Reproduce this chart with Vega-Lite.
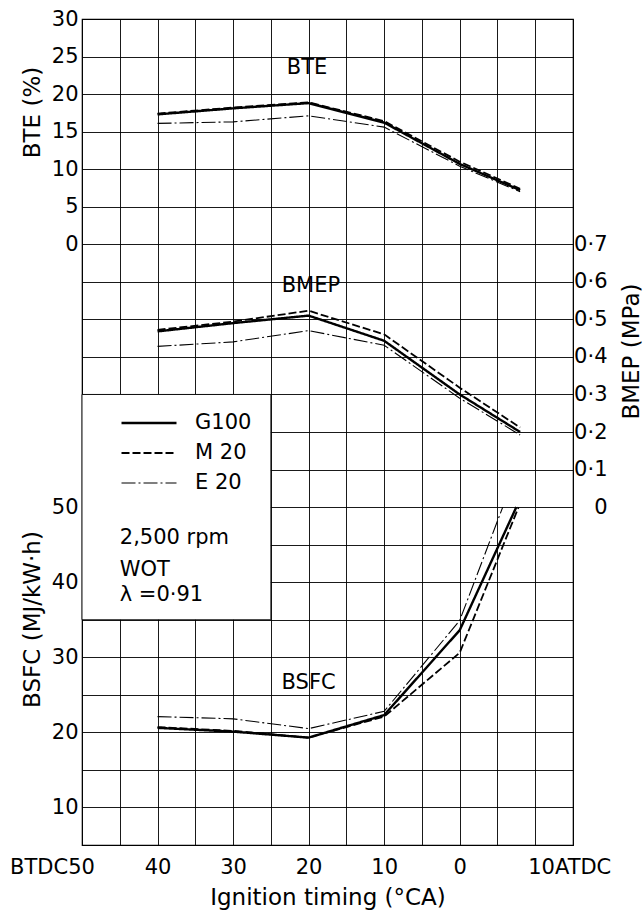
{
  "$schema": "https://vega.github.io/schema/vega-lite/v6.json",
  "width": 491,
  "height": 826,
  "autosize": {"type": "none"},
  "padding": {"left": 82, "top": 19, "right": 70, "bottom": 67},
  "background": "white",
  "config": {
    "view": {"stroke": "#000", "strokeWidth": 1.2},
    "font": "DejaVu Sans",
    "axis": {
      "labelFont": "DejaVu Sans", "titleFont": "DejaVu Sans",
      "labelColor": "#000", "titleColor": "#000",
      "labelFontSize": 21, "titleFontSize": 23, "titleFontWeight": "normal",
      "domain": false, "ticks": false,
      "gridColor": "#000", "gridOpacity": 1, "gridWidth": 0.9,
      "labelOverlap": false, "labelFlush": false, "labelBound": false
    },
    "legend": {
      "clipHeight": 30, "rowPadding": 0, "symbolType": "stroke", "symbolSize": 3025,
      "labelOffset": 17, "labelFontSize": 21, "labelFont": "DejaVu Sans", "labelColor": "#000",
      "padding": 0, "symbolStrokeColor": "#000", "symbolOffset": 0
    }
  },
  "datasets": {
    "bte": [
      {"fuel": "G100", "timing": 40, "value": 17.3}, {"fuel": "G100", "timing": 30, "value": 18.1}, {"fuel": "G100", "timing": 20, "value": 18.8},
      {"fuel": "G100", "timing": 10, "value": 16.2}, {"fuel": "G100", "timing": 0, "value": 10.7}, {"fuel": "G100", "timing": -8, "value": 7.2},
      {"fuel": "M 20", "timing": 40, "value": 17.4}, {"fuel": "M 20", "timing": 30, "value": 18.2}, {"fuel": "M 20", "timing": 20, "value": 18.9},
      {"fuel": "M 20", "timing": 10, "value": 16.4}, {"fuel": "M 20", "timing": 0, "value": 11.0}, {"fuel": "M 20", "timing": -8, "value": 7.4},
      {"fuel": "E 20", "timing": 40, "value": 16.1}, {"fuel": "E 20", "timing": 30, "value": 16.3}, {"fuel": "E 20", "timing": 20, "value": 17.1},
      {"fuel": "E 20", "timing": 10, "value": 15.6}, {"fuel": "E 20", "timing": 0, "value": 10.4}, {"fuel": "E 20", "timing": -8, "value": 7.0}
    ],
    "bmep": [
      {"fuel": "G100", "timing": 40, "value": 0.468}, {"fuel": "G100", "timing": 30, "value": 0.49}, {"fuel": "G100", "timing": 20, "value": 0.51},
      {"fuel": "G100", "timing": 10, "value": 0.443}, {"fuel": "G100", "timing": 0, "value": 0.3}, {"fuel": "G100", "timing": -8, "value": 0.2},
      {"fuel": "M 20", "timing": 40, "value": 0.472}, {"fuel": "M 20", "timing": 30, "value": 0.494}, {"fuel": "M 20", "timing": 20, "value": 0.523},
      {"fuel": "M 20", "timing": 10, "value": 0.46}, {"fuel": "M 20", "timing": 0, "value": 0.318}, {"fuel": "M 20", "timing": -8, "value": 0.212},
      {"fuel": "E 20", "timing": 40, "value": 0.428}, {"fuel": "E 20", "timing": 30, "value": 0.44}, {"fuel": "E 20", "timing": 20, "value": 0.47},
      {"fuel": "E 20", "timing": 10, "value": 0.431}, {"fuel": "E 20", "timing": 0, "value": 0.29}, {"fuel": "E 20", "timing": -8, "value": 0.192}
    ],
    "bsfc": [
      {"fuel": "G100", "timing": 40, "value": 20.6}, {"fuel": "G100", "timing": 30, "value": 20.1}, {"fuel": "G100", "timing": 20, "value": 19.3},
      {"fuel": "G100", "timing": 10, "value": 22.3}, {"fuel": "G100", "timing": 0, "value": 33.6}, {"fuel": "G100", "timing": -7.5, "value": 50},
      {"fuel": "M 20", "timing": 40, "value": 20.7}, {"fuel": "M 20", "timing": 30, "value": 20.2}, {"fuel": "M 20", "timing": 20, "value": 19.3},
      {"fuel": "M 20", "timing": 10, "value": 22.1}, {"fuel": "M 20", "timing": 0, "value": 30.6}, {"fuel": "M 20", "timing": -7.8, "value": 50},
      {"fuel": "E 20", "timing": 40, "value": 22.1}, {"fuel": "E 20", "timing": 30, "value": 21.8}, {"fuel": "E 20", "timing": 20, "value": 20.5},
      {"fuel": "E 20", "timing": 10, "value": 22.8}, {"fuel": "E 20", "timing": 0, "value": 34.9}, {"fuel": "E 20", "timing": -5.7, "value": 50}
    ]
  },
  "encoding": {
    "x": {"field": "timing", "type": "quantitative", "scale": {"domain": [50, -15], "nice": false, "zero": false},
      "axis": {
        "values": [50, 45, 40, 35, 30, 25, 20, 15, 10, 5, 0, -5, -10, -15],
        "grid": true,
        "labelExpr": "datum.value == 50 ? 'BTDC50' : datum.value == -10 ? '10ATDC' : (datum.value >= 0 && datum.value <= 40 && datum.value % 10 == 0) ? format(datum.value, 'd') : ''",
        "labelPadding": 11,
        "labelOffset": {"condition": [{"test": "datum.value == 50", "value": -30}, {"test": "datum.value == -10", "value": 34}], "value": 0},
        "title": "Ignition timing (°CA)",
        "titlePadding": 9
      }
    }
  },
  "layer": [
    {
      "encoding": {
        "y": {"field": "value", "type": "quantitative", "scale": {"domain": [5, 115], "nice": false, "zero": false},
          "axis": {
            "orient": "left",
            "values": [5, 10, 15, 20, 25, 30, 35, 40, 45, 50, 55, 60, 65, 70, 75, 80, 85, 90, 95, 100, 105, 110, 115],
            "grid": true,
            "labelExpr": "(datum.value >= 10 && datum.value <= 50 && datum.value % 10 == 0) ? format(datum.value, 'd') : ''",
            "labelPadding": 4,
            "title": "BSFC (MJ/kW·h)",
            "titleX": -50, "titleY": 600, "titleBaseline": "middle", "titleAlign": "center"
          }
        }
      },
      "layer": [
        {
          "data": {"values": [{"timing": 50, "timing2": 25, "value": 35, "value2": 65}]},
          "mark": {"type": "rect", "fill": "#fff", "stroke": "#000", "strokeWidth": 0.9},
          "encoding": {
            "x2": {"field": "timing2"},
            "y2": {"field": "value2"}
          }
        },
        {
          "data": {"name": "bsfc"},
          "mark": {"type": "line", "color": "#000"},
          "encoding": {
            "strokeDash": {"field": "fuel", "type": "nominal", "scale": {"domain": ["G100", "M 20", "E 20"], "range": [[1, 0], [8, 3], [14, 3, 2, 3]]},
              "legend": {"orient": "none", "legendX": 38, "legendY": 389, "title": null}},
            "strokeWidth": {"field": "fuel", "type": "nominal", "scale": {"type": "ordinal", "domain": ["G100", "M 20", "E 20"], "range": [2.4, 1.8, 1.1]},
              "legend": {"orient": "none", "legendX": 38, "legendY": 389, "title": null}}
          }
        },
        {
          "data": {"values": [{"timing": 20, "value": 25.8, "label": "BSFC"}]},
          "mark": {"type": "text", "fontSize": 21, "font": "DejaVu Sans", "color": "#000", "align": "center", "baseline": "alphabetic"},
          "encoding": {"text": {"field": "label"}}
        },
        {
          "data": {"values": [
            {"timing": 45, "value": 45.1, "label": "2,500 rpm"},
            {"timing": 45, "value": 40.8, "label": "WOT"},
            {"timing": 45, "value": 37.5, "label": "λ =0·91"}
          ]},
          "mark": {"type": "text", "fontSize": 21, "font": "DejaVu Sans", "color": "#000", "align": "left", "baseline": "alphabetic"},
          "encoding": {"text": {"field": "label"}}
        }
      ]
    },
    {
      "encoding": {
        "y": {"field": "value", "type": "quantitative", "scale": {"domain": [-0.9, 1.3], "nice": false, "zero": false},
          "axis": {
            "orient": "right",
            "values": [0, 0.1, 0.2, 0.3, 0.4, 0.5, 0.6, 0.7],
            "grid": false,
            "labelExpr": "datum.value == 0 ? '0' : replace(format(datum.value, '.1f'), '.', '·')",
            "labelAlign": "right",
            "labelPadding": 34,
            "title": "BMEP (MPa)",
            "titleAngle": 270,
            "titleX": 58, "titleY": 332, "titleBaseline": "middle", "titleAlign": "center"
          }
        }
      },
      "layer": [
        {
          "data": {"name": "bmep"},
          "mark": {"type": "line", "color": "#000"},
          "encoding": {
            "strokeDash": {"field": "fuel", "type": "nominal", "scale": {"domain": ["G100", "M 20", "E 20"], "range": [[1, 0], [8, 3], [14, 3, 2, 3]]},
              "legend": {"orient": "none", "legendX": 38, "legendY": 389, "title": null}},
            "strokeWidth": {"field": "fuel", "type": "nominal", "scale": {"type": "ordinal", "domain": ["G100", "M 20", "E 20"], "range": [2.4, 1.8, 1.1]},
              "legend": {"orient": "none", "legendX": 38, "legendY": 389, "title": null}}
          }
        },
        {
          "data": {"values": [{"timing": 19.7, "value": 0.573, "label": "BMEP"}]},
          "mark": {"type": "text", "fontSize": 21, "font": "DejaVu Sans", "color": "#000", "align": "center", "baseline": "alphabetic"},
          "encoding": {"text": {"field": "label"}}
        }
      ]
    },
    {
      "encoding": {
        "y": {"field": "value", "type": "quantitative", "scale": {"domain": [-80, 30], "nice": false, "zero": false},
          "axis": {
            "orient": "left",
            "values": [0, 5, 10, 15, 20, 25, 30],
            "grid": false,
            "labelPadding": 4,
            "title": "BTE (%)",
            "titleX": -50, "titleY": 93, "titleBaseline": "middle", "titleAlign": "center"
          }
        }
      },
      "layer": [
        {
          "data": {"name": "bte"},
          "mark": {"type": "line", "color": "#000"},
          "encoding": {
            "strokeDash": {"field": "fuel", "type": "nominal", "scale": {"domain": ["G100", "M 20", "E 20"], "range": [[1, 0], [8, 3], [14, 3, 2, 3]]},
              "legend": {"orient": "none", "legendX": 38, "legendY": 389, "title": null}},
            "strokeWidth": {"field": "fuel", "type": "nominal", "scale": {"type": "ordinal", "domain": ["G100", "M 20", "E 20"], "range": [2.4, 1.8, 1.1]},
              "legend": {"orient": "none", "legendX": 38, "legendY": 389, "title": null}}
          }
        },
        {
          "data": {"values": [{"timing": 20.2, "value": 22.7, "label": "BTE"}]},
          "mark": {"type": "text", "fontSize": 21, "font": "DejaVu Sans", "color": "#000", "align": "center", "baseline": "alphabetic"},
          "encoding": {"text": {"field": "label"}}
        }
      ]
    }
  ],
  "resolve": {"scale": {"y": "independent"}, "axis": {"y": "independent"}}
}
